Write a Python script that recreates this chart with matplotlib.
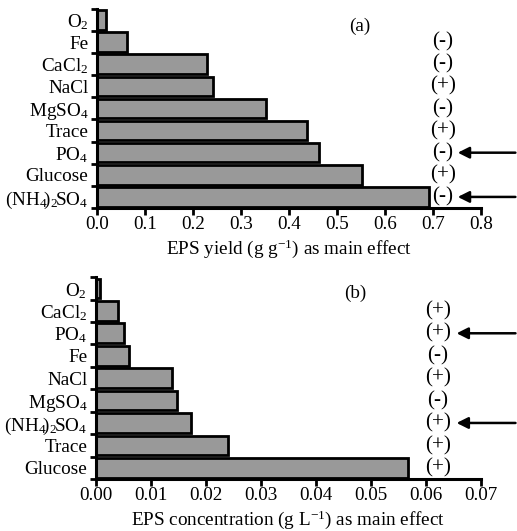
import matplotlib
matplotlib.use("Agg")
import matplotlib.pyplot as plt
import numpy as np

plt.rcParams['font.family'] = ['Liberation Serif', 'DejaVu Serif']
plt.rcParams['mathtext.fontset'] = 'custom'
plt.rcParams['mathtext.rm'] = 'Liberation Serif'
plt.rcParams['mathtext.it'] = 'Liberation Serif:italic'
plt.rcParams['mathtext.bf'] = 'Liberation Serif:bold'

NH4 = r"$\mathrm{(NH_4\!)_2\!SO_4}$"

# Panel (a): EPS yield
cats_a = ["O$_2$", "Fe", "CaCl$_2$", "NaCl", "MgSO$_4$", "Trace", "PO$_4$", "Glucose", NH4]
vals_a = [0.019, 0.063, 0.230, 0.242, 0.352, 0.437, 0.463, 0.552, 0.692]
signs_a = ["", "(-)", "(-)", "(+)", "(-)", "(+)", "(-)", "(+)", "(-)"]
arrows_a = [6, 8]
ticks_a = [0.0, 0.1, 0.2, 0.3, 0.4, 0.5, 0.6, 0.7, 0.8]

# Panel (b): EPS concentration
cats_b = ["O$_2$", "CaCl$_2$", "PO$_4$", "Fe", "NaCl", "MgSO$_4$", NH4, "Trace", "Glucose"]
vals_b = [0.0008, 0.0041, 0.0051, 0.0061, 0.0139, 0.0148, 0.0174, 0.0241, 0.0568]
signs_b = ["", "(+)", "(+)", "(-)", "(+)", "(-)", "(+)", "(+)", "(+)"]
arrows_b = [2, 6]
ticks_b = [0.00, 0.01, 0.02, 0.03, 0.04, 0.05, 0.06, 0.07]

FS = 13.8

fig = plt.figure(figsize=(5.17, 5.31), dpi=100)
ax1 = fig.add_axes([0.187, 0.6083, 0.743, 0.375])
ax2 = fig.add_axes([0.185, 0.0979, 0.745, 0.380])


def panel(ax, cats, vals, signs, arrows, ticks, xmax, fmt, xlabel, title, tx, sx, arrow_x):
    n = len(cats)
    y = np.arange(n)
    ax.barh(y, vals, height=0.88, color='#999999', edgecolor='black', linewidth=2)
    ax.set_ylim(n - 0.5, -0.5)
    ax.set_xlim(0, xmax)
    ax.set_xticks(ticks)
    ax.set_xticklabels([fmt.format(t) for t in ticks], fontsize=FS)
    ax.set_yticks(y)
    ax.set_yticklabels(cats, fontsize=FS)
    ax.set_yticks(np.arange(n + 1) - 0.5, minor=True)
    ax.tick_params(axis='y', which='major', length=0, pad=6)
    ax.tick_params(axis='y', which='minor', length=4, width=2, direction='out')
    ax.tick_params(axis='x', which='major', length=5, width=2, direction='out', pad=1)
    for s in ['top', 'right']:
        ax.spines[s].set_visible(False)
    for s in ['left', 'bottom']:
        ax.spines[s].set_linewidth(2.2)
    ax.set_xlabel(xlabel, fontsize=FS, labelpad=3)
    ax.text(tx[0], tx[1], title, transform=ax.transAxes, fontsize=FS, ha='center', va='center')
    for i, s in enumerate(signs):
        if s:
            ax.text(sx, i, s, fontsize=FS + 1.5, ha='center', va='center', clip_on=False)
    for i in arrows:
        ax.annotate('', xy=(arrow_x, i), xytext=(xmax * 1.09, i),
                    arrowprops=dict(arrowstyle='-|>', color='black', lw=1.8,
                                    mutation_scale=17, shrinkA=0, shrinkB=0),
                    annotation_clip=False)


panel(ax1, cats_a, vals_a, signs_a, arrows_a, ticks_a, 0.8, "{:.1f}",
      "EPS yield (g g$^{\u22121}$) as main effect", "(a)", (0.685, 0.91), 0.721, 0.752)
panel(ax2, cats_b, vals_b, signs_b, arrows_b, ticks_b, 0.07, "{:.2f}",
      "EPS concentration (g L$^{\u22121}$) as main effect", "(b)", (0.673, 0.92), 0.0622, 0.0656)

fig.savefig("out.png", dpi=100)
